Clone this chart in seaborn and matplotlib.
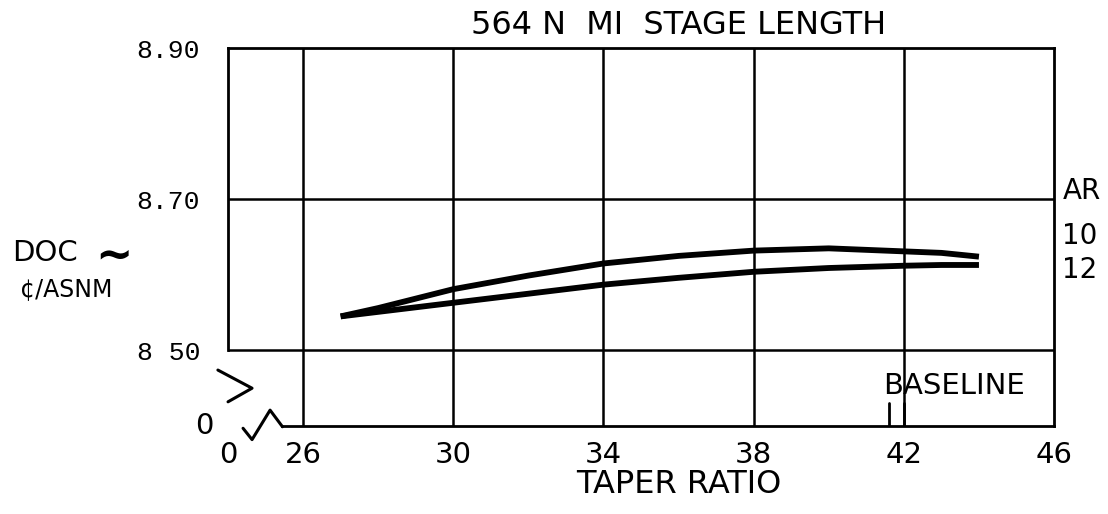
import matplotlib
matplotlib.use("Agg")
import matplotlib.pyplot as plt
import seaborn as sns
import pandas as pd

# ---- data ----
aspect_ratios = ["10", "12"]
taper_ratio = [27, 28, 30, 32, 34, 36, 38, 40, 42, 43, 44]
doc_ar10 = [8.545, 8.556, 8.581, 8.599, 8.615, 8.625, 8.632, 8.635, 8.631, 8.629, 8.624]
doc_ar12 = [8.545, 8.551, 8.563, 8.575, 8.587, 8.596, 8.604, 8.609, 8.612, 8.613, 8.613]
x_ticks = [24, 26, 30, 34, 38, 42, 46]
x_ticklabels = ["0", "26", "30", "34", "38", "42", "46"]
y_ticks = [8.50, 8.70, 8.90]
y_ticklabels = ["8 50", "8.70", "8.90"]
baseline_marks = [41.6, 42.0]

df = pd.DataFrame({
    "taper": taper_ratio * 2,
    "doc": doc_ar10 + doc_ar12,
    "AR": [aspect_ratios[0]] * len(taper_ratio) + [aspect_ratios[1]] * len(taper_ratio),
})

sns.set_theme(style="white")
plt.rcParams["font.family"] = ["DejaVu Sans"]
plt.rcParams["text.color"] = "black"
plt.rcParams["xtick.color"] = "black"
plt.rcParams["ytick.color"] = "black"

fig = plt.figure(figsize=(11.08, 5.14), dpi=100)
ax = fig.add_axes([0.2058, 0.1712, 0.9513 - 0.2058, 0.9066 - 0.1712])

sns.lineplot(data=df, x="taper", y="doc", hue="AR", palette=["black", "black"],
             linewidth=4.2, legend=False, ax=ax, sort=True, solid_capstyle="butt")

ax.set_xlim(24, 46)
ax.set_ylim(8.40, 8.90)

# grid
for xv in [26, 30, 34, 38, 42]:
    ax.axvline(xv, color="black", lw=1.8, zorder=1)
for yv in [8.50, 8.70]:
    ax.axhline(yv, color="black", lw=1.8, zorder=1)

# spines
for s in ax.spines.values():
    s.set_color("black")
    s.set_linewidth(2.0)
ax.spines["left"].set_bounds(8.50, 8.90)
ax.spines["bottom"].set_bounds(25.45, 46)

ax.set_xticks(x_ticks)
ax.set_xticklabels(x_ticklabels, fontsize=21)
ax.tick_params(axis="x", direction="out", length=4, width=1.5, pad=7)
ax.set_yticks(y_ticks)
ax.set_yticklabels(y_ticklabels, fontsize=19, family="Liberation Mono")
ax.tick_params(axis="y", direction="out", length=0, pad=20)
ax.xaxis.get_major_ticks()[0].tick1line.set_visible(False)
ax.set_xlabel("")
ax.set_ylabel("")

# y "0" label at the broken axis
ax.text(-0.018, 0.0, "0", transform=ax.transAxes, fontsize=21, ha="right", va="center")

# axis break symbols
ax.plot([23.73, 24.64, 24.0], [8.474, 8.450, 8.432], color="black", lw=2.2, clip_on=False)
ax.plot([24.40, 24.64, 25.12, 25.45], [8.397, 8.382, 8.421, 8.399], color="black", lw=2.2, clip_on=False)

# baseline marks
for bx in baseline_marks:
    ax.plot([bx, bx], [8.40, 8.43], color="black", lw=2.0)
ax.text(43.34, 8.453, "BASELINE", fontsize=21, ha="center", va="center")

# AR labels
ax.text(1.01, 0.622, "AR", transform=ax.transAxes, fontsize=20, ha="left", va="center")
ax.text(1.01, 0.503, "10", transform=ax.transAxes, fontsize=20, ha="left", va="center")
ax.text(1.01, 0.413, "12", transform=ax.transAxes, fontsize=20, ha="left", va="center")

# titles and axis labels
fig.text(0.612, 0.951, "564 N  MI  STAGE LENGTH", fontsize=23, ha="center", va="center")
fig.text(0.613, 0.058, "TAPER RATIO", fontsize=23, ha="center", va="center")
fig.text(0.011, 0.508, "DOC", fontsize=21, ha="left", va="center")
fig.text(0.086, 0.502, "~", fontsize=32, fontweight="bold", ha="left", va="center")
fig.text(0.018, 0.438, "¢/ASNM", fontsize=17, ha="left", va="center")

fig.savefig("out.png", dpi=100, facecolor="white")
